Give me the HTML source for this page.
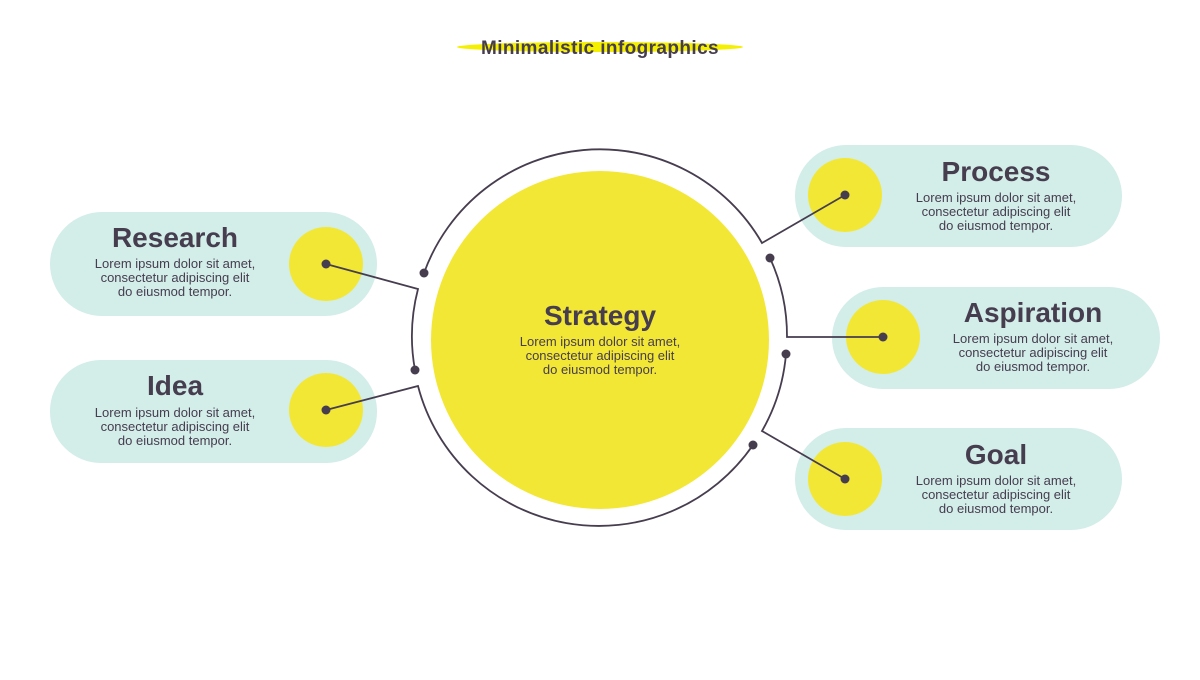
<!DOCTYPE html>
<html><head><meta charset="utf-8"><style>
body{margin:0;width:1200px;height:675px;background:#fff;overflow:hidden}
svg text{font-family:"Liberation Sans",sans-serif;fill:#463d4f}
.t{font-weight:bold;font-size:28px}
.b{font-size:13px}
</style></head><body>
<svg width="1200" height="675" viewBox="0 0 1200 675">
<ellipse cx="600" cy="47" rx="143" ry="5" fill="#f5ef00"/>
<text x="600" y="54" text-anchor="middle" font-weight="bold" font-size="19" letter-spacing="0.4">Minimalistic infographics</text>

<rect x="50" y="212" width="327" height="104" rx="52" fill="#d3ede9"/>
<rect x="50" y="360" width="327" height="103" rx="51" fill="#d3ede9"/>
<rect x="795" y="145" width="327" height="102" rx="51" fill="#d3ede9"/>
<rect x="832" y="287" width="328" height="102" rx="51" fill="#d3ede9"/>
<rect x="795" y="428" width="327" height="102" rx="51" fill="#d3ede9"/>

<g fill="#f3e735">
<circle cx="600" cy="340" r="169"/>
<circle cx="326" cy="264" r="37"/>
<circle cx="326" cy="410" r="37"/>
<circle cx="845" cy="195" r="37"/>
<circle cx="883" cy="337" r="37"/>
<circle cx="845" cy="479" r="37"/>
</g>

<g fill="none" stroke="#463d4f" stroke-width="1.8">
<path d="M424 273 A187 187 0 0 1 762 243 L845 195"/>
<path d="M770 258 A187 187 0 0 1 787 337 L883 337"/>
<path d="M786 354 A187 187 0 0 1 762 431 L845 479"/>
<path d="M753 445 A187 187 0 0 1 418 386 L326 410"/>
<path d="M415 370 A187 187 0 0 1 418 289 L326 264"/>
</g>
<g fill="#463d4f">
<circle cx="424" cy="273" r="4.5"/><circle cx="770" cy="258" r="4.5"/><circle cx="786" cy="354" r="4.5"/>
<circle cx="753" cy="445" r="4.5"/><circle cx="415" cy="370" r="4.5"/>
<circle cx="326" cy="264" r="4.5"/><circle cx="326" cy="410" r="4.5"/><circle cx="845" cy="195" r="4.5"/>
<circle cx="883" cy="337" r="4.5"/><circle cx="845" cy="479" r="4.5"/>
</g>

<g text-anchor="middle">
<text class="t" x="600" y="325">Strategy</text>
<text class="b" x="600" y="346">Lorem ipsum dolor sit amet,</text>
<text class="b" x="600" y="360">consectetur adipiscing elit</text>
<text class="b" x="600" y="374">do eiusmod tempor.</text>

<text class="t" x="175" y="247">Research</text>
<text class="b" x="175" y="268">Lorem ipsum dolor sit amet,</text>
<text class="b" x="175" y="282">consectetur adipiscing elit</text>
<text class="b" x="175" y="296">do eiusmod tempor.</text>

<text class="t" x="175" y="395">Idea</text>
<text class="b" x="175" y="417">Lorem ipsum dolor sit amet,</text>
<text class="b" x="175" y="431">consectetur adipiscing elit</text>
<text class="b" x="175" y="445">do eiusmod tempor.</text>

<text class="t" x="996" y="181">Process</text>
<text class="b" x="996" y="202">Lorem ipsum dolor sit amet,</text>
<text class="b" x="996" y="216">consectetur adipiscing elit</text>
<text class="b" x="996" y="230">do eiusmod tempor.</text>

<text class="t" x="1033" y="322">Aspiration</text>
<text class="b" x="1033" y="343">Lorem ipsum dolor sit amet,</text>
<text class="b" x="1033" y="357">consectetur adipiscing elit</text>
<text class="b" x="1033" y="371">do eiusmod tempor.</text>

<text class="t" x="996" y="464">Goal</text>
<text class="b" x="996" y="485">Lorem ipsum dolor sit amet,</text>
<text class="b" x="996" y="499">consectetur adipiscing elit</text>
<text class="b" x="996" y="513">do eiusmod tempor.</text>
</g>
</svg>
</body></html>
